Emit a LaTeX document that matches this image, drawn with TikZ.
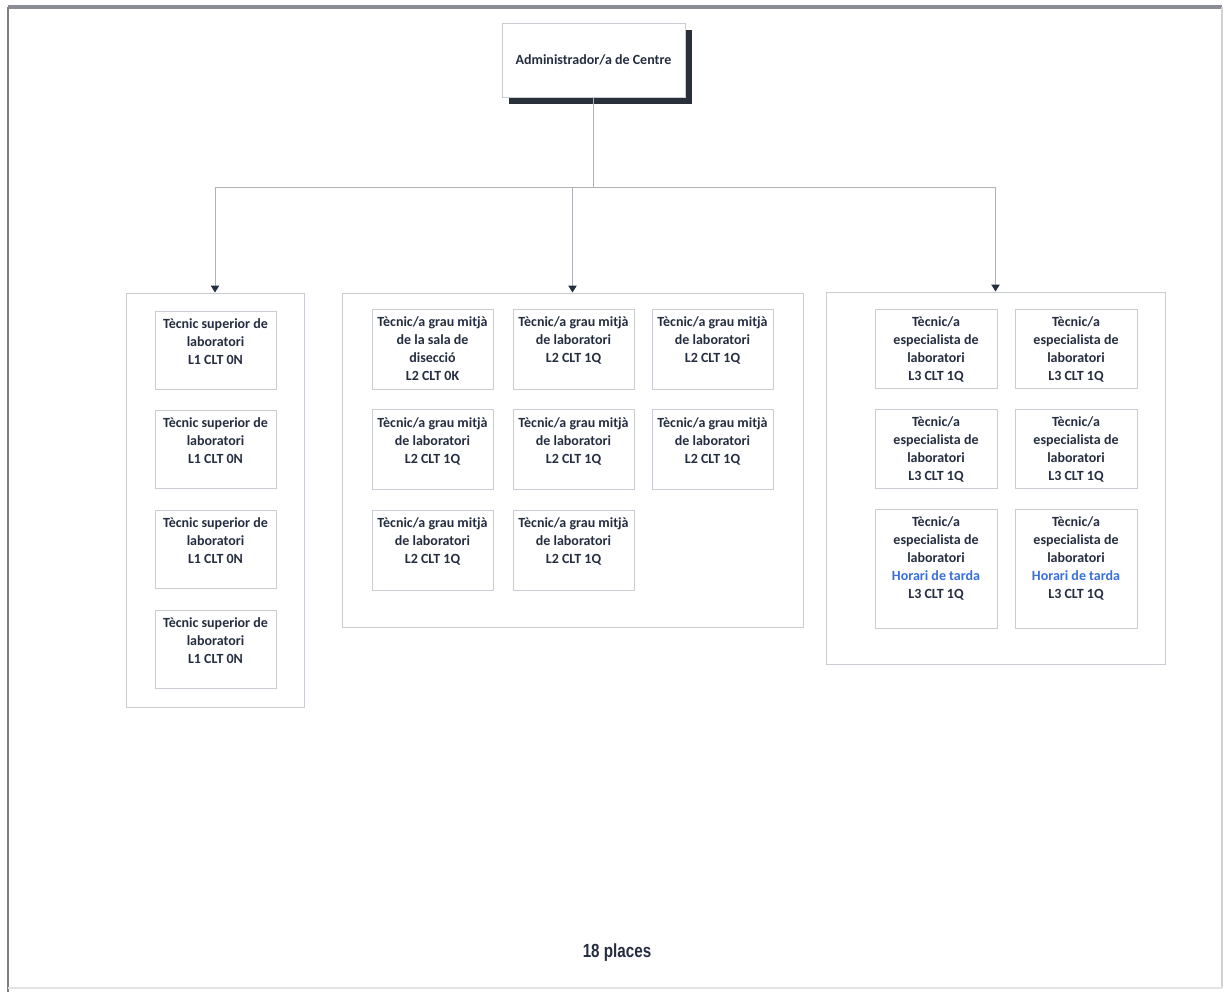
\documentclass[tikz,border=0pt]{standalone}
\usepackage{fontspec}
\setmainfont{Carlito}
\newfontfamily\placesfont[FakeStretch=0.8]{Liberation Sans Bold}
\usetikzlibrary{arrows.meta,shadows}
\definecolor{navy}{HTML}{252E40}
\definecolor{boxline}{HTML}{C9CCD2}
\definecolor{connc}{HTML}{AEB2B8}
\definecolor{shadowc}{HTML}{2A3039}
\definecolor{blueh}{HTML}{3A6FD8}
\definecolor{framec}{HTML}{8A8E94}
\newcommand\bx[3]{\parbox[t][#2][t]{#1}{\centering\rule{0pt}{8.8pt}#3}}
\begin{document}
\begin{tikzpicture}[x=0.5pt,y=-0.5pt,
  ibox/.style={draw=boxline,line width=0.5pt,inner sep=0pt,fill=white,
    font=\fontsize{7}{9}\selectfont\bfseries,text=navy},
  grp/.style={draw=boxline,line width=0.5pt,inner sep=0pt},
  topbox/.style={draw=boxline,line width=0.4pt,fill=white,inner sep=0pt,
    font=\fontsize{7}{9}\selectfont\bfseries,text=navy,
    drop shadow={shadow xshift=3.25pt,shadow yshift=-3.5pt,fill=shadowc,opacity=1}},
  conn/.style={draw=connc,line width=0.5pt},
  arr/.style={conn,-{Triangle[length=3.5pt,width=4.2pt,color=navy]}}]
\useasboundingbox (0,0) rectangle (1225,992);
% page frame
\draw[framec,line width=2pt] (8,7) -- (1222,7);
\draw[framec!90!black,line width=1pt] (8,7) -- (8,992);
\draw[framec!40,line width=0.6pt] (1222,7) -- (1222,988);
\draw[framec!25,line width=0.6pt] (8,988) -- (1222,988);
% top box
\node[topbox,minimum width=91.5pt,minimum height=37pt] (adm) at (593.5,60) {Administrador/a de Centre};
% groups
\node[grp,minimum width=89pt,minimum height=207pt] (g1) at (215,500) {};
\node[grp,minimum width=230.5pt,minimum height=167pt] (g2) at (572.5,460) {};
\node[grp,minimum width=169.5pt,minimum height=186pt] (g3) at (995.5,478) {};
% connectors
\coordinate (jn) at (593.5,187);
\draw[conn] (adm.south) -- (jn);
\draw[arr] (jn) -| (g1.north);
\draw[arr] (jn) -| (g2.north);
\draw[arr] (jn) -| (g3.north);
% group 1
\node[ibox] (a1) at (215.5,350) {\bx{60.5pt}{39pt}{Tècnic superior de\\laboratori\\L1 CLT 0N}};
\node[ibox] (a2) at (215.5,449) {\bx{60.5pt}{39pt}{Tècnic superior de\\laboratori\\L1 CLT 0N}};
\node[ibox] (a3) at (215.5,549) {\bx{60.5pt}{39pt}{Tècnic superior de\\laboratori\\L1 CLT 0N}};
\node[ibox] (a4) at (215.5,649) {\bx{60.5pt}{39pt}{Tècnic superior de\\laboratori\\L1 CLT 0N}};
% group 2
\node[ibox] (b11) at (432.5,349) {\bx{60.5pt}{40pt}{Tècnic/a grau mitjà\\de la sala de\\disecció\\L2 CLT 0K}};
\node[ibox] (b12) at (573.5,349) {\bx{60.5pt}{40pt}{Tècnic/a grau mitjà\\de laboratori\\L2 CLT 1Q}};
\node[ibox] (b13) at (712.5,349) {\bx{60.5pt}{40pt}{Tècnic/a grau mitjà\\de laboratori\\L2 CLT 1Q}};
\node[ibox] (b21) at (432.5,449.5) {\bx{60.5pt}{40pt}{Tècnic/a grau mitjà\\de laboratori\\L2 CLT 1Q}};
\node[ibox] (b22) at (573.5,449.5) {\bx{60.5pt}{40pt}{Tècnic/a grau mitjà\\de laboratori\\L2 CLT 1Q}};
\node[ibox] (b23) at (712.5,449.5) {\bx{60.5pt}{40pt}{Tècnic/a grau mitjà\\de laboratori\\L2 CLT 1Q}};
\node[ibox] (b31) at (432.5,550) {\bx{60.5pt}{40pt}{Tècnic/a grau mitjà\\de laboratori\\L2 CLT 1Q}};
\node[ibox] (b32) at (573.5,550) {\bx{60.5pt}{40pt}{Tècnic/a grau mitjà\\de laboratori\\L2 CLT 1Q}};
% group 3
\node[ibox] (c11) at (936,348.5) {\bx{61pt}{39.5pt}{Tècnic/a\\especialista de\\laboratori\\L3 CLT 1Q}};
\node[ibox] (c12) at (1076,348.5) {\bx{61pt}{39.5pt}{Tècnic/a\\especialista de\\laboratori\\L3 CLT 1Q}};
\node[ibox] (c21) at (936,448.5) {\bx{61pt}{39.5pt}{Tècnic/a\\especialista de\\laboratori\\L3 CLT 1Q}};
\node[ibox] (c22) at (1076,448.5) {\bx{61pt}{39.5pt}{Tècnic/a\\especialista de\\laboratori\\L3 CLT 1Q}};
\node[ibox] (c31) at (936,568.5) {\bx{61pt}{59.5pt}{Tècnic/a\\especialista de\\laboratori\\\textcolor{blueh}{Horari de tarda}\\L3 CLT 1Q}};
\node[ibox] (c32) at (1076,568.5) {\bx{61pt}{59.5pt}{Tècnic/a\\especialista de\\laboratori\\\textcolor{blueh}{Horari de tarda}\\L3 CLT 1Q}};
% footer
\node[font=\placesfont\fontsize{9.5}{11}\selectfont,text=navy] (pl) at (617,953) {18 places};
\end{tikzpicture}
\end{document}
